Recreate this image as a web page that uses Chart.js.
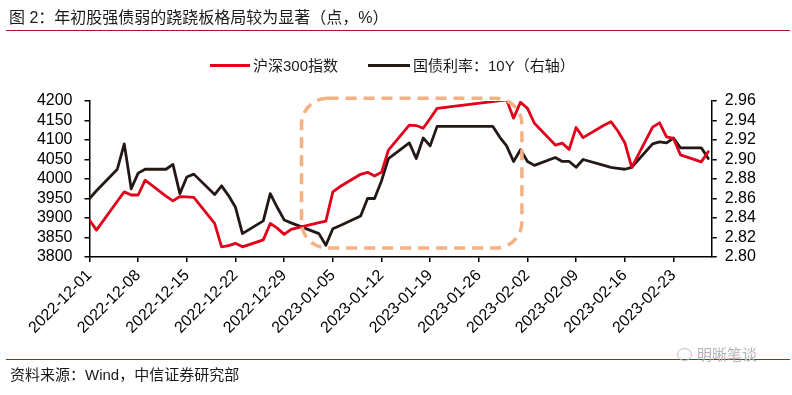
<!DOCTYPE html>
<html>
<head>
<meta charset="utf-8">
<script src="https://cdn.jsdelivr.net/npm/chart.js@4.4.1/dist/chart.umd.min.js"></script>
<style>
  html, body { margin: 0; padding: 0; background: #fff; }
  #wrap { position: relative; width: 792px; height: 395px; overflow: hidden;
    font-family: "Liberation Sans", Arial, "Noto Sans CJK SC", sans-serif; color: #1a1a1a; }
  #chart { position: absolute; left: 0; top: 0; }
  .abs { position: absolute; white-space: nowrap; }
  #title { left: 9px; top: 7px; font-size: 16px; line-height: 22px; }
  #titleLine { left: 6px; top: 30px; width: 784px; height: 0; border-top: 1.5px solid #a8191e; }
  .legend { top: 56px; font-size: 15px; line-height: 20px; }
  .swatch { position: absolute; height: 3px; top: 64px; }
  #footLine { left: 6px; top: 359px; width: 784px; height: 0; border-top: 1.5px solid #e3001b; }
  #source { left: 10px; top: 365px; font-size: 15px; line-height: 20px; }
  #mark { left: 697px; top: 345px; font-size: 15px; line-height: 20px; color: #b4b4b4; }
  #markIcon { left: 677px; top: 348px; width: 13px; height: 11px; border: 1.5px solid #c4c4c4; border-radius: 50%; }
</style>
</head>
<body>
<div id="wrap">
  <canvas id="chart" width="792" height="395"></canvas>
  <div class="abs" id="title">图 2：年初股强债弱的跷跷板格局较为显著（点，%）</div>
  <div class="abs" id="titleLine"></div>
  <div class="swatch" style="left:210px;width:40px;background:#e3001b"></div>
  <div class="abs legend" style="left:253px">沪深300指数</div>
  <div class="swatch" style="left:368px;width:42px;background:#231815"></div>
  <div class="abs legend" style="left:413px">国债利率：10Y（右轴）</div>
  <div class="abs" id="footLine"></div>
  <div class="abs" id="source">资料来源：Wind，中信证券研究部</div>
  <div class="abs" id="markIcon"></div>
  <div class="abs" id="mark">明晰笔谈</div>
</div>
<script>
  // trading days (union of stock & bond markets)
  const dates = [
    "2022-12-01", "2022-12-02", "2022-12-05", "2022-12-06", "2022-12-07", "2022-12-08", "2022-12-09",
    "2022-12-12", "2022-12-13", "2022-12-14", "2022-12-15", "2022-12-16",
    "2022-12-19", "2022-12-20", "2022-12-21", "2022-12-22", "2022-12-23",
    "2022-12-26", "2022-12-27", "2022-12-28", "2022-12-29", "2022-12-30",
    "2023-01-03", "2023-01-04", "2023-01-05", "2023-01-06",
    "2023-01-09", "2023-01-10", "2023-01-11", "2023-01-12", "2023-01-13",
    "2023-01-16", "2023-01-17", "2023-01-18", "2023-01-19", "2023-01-20",
    "2023-01-28", "2023-01-29", "2023-01-30", "2023-01-31", "2023-02-01", "2023-02-02", "2023-02-03",
    "2023-02-06", "2023-02-07", "2023-02-08", "2023-02-09", "2023-02-10",
    "2023-02-13", "2023-02-14", "2023-02-15", "2023-02-16", "2023-02-17",
    "2023-02-20", "2023-02-21", "2023-02-22", "2023-02-23", "2023-02-24",
    "2023-02-27", "2023-02-28"
  ];

  const csi300 = [
    3895, 3869, 3943, 3967, 3959, 3959, 3997,
    3956, 3944, 3955, 3954, 3953,
    3886, 3826, 3829, 3835, 3826,
    3844, 3886, 3874, 3858, 3871,
    3888, 3892, 3967, 3980,
    4012, 4017, 4008, 4017, 4074,
    4138, 4137, 4130, 4155, 4181,
    null, null, 4203, 4156, 4197, 4181, 4143,
    4087, 4092, 4076, 4132, 4106,
    4138, 4147, 4123, 4093, 4030,
    4133, 4144, 4108, 4104, 4062,
    4044, 4070
  ];

  const bond10y = [
    2.860, 2.868, 2.890, 2.916, 2.870, 2.886, 2.890,
    2.890, 2.895, 2.865, 2.882, 2.885,
    2.864, 2.873, 2.863, 2.851, 2.824,
    2.837, 2.865, 2.851, 2.838, 2.835,
    2.824, 2.812, 2.829, 2.832,
    2.842, 2.860, 2.860, 2.878, 2.901,
    2.917, 2.901, 2.922, 2.914, 2.934,
    2.934, 2.923, 2.914, 2.898, 2.910, 2.898, 2.894,
    2.902, 2.898, 2.898, 2.892, 2.900,
    2.894, 2.892, 2.891, 2.890, 2.892,
    2.916, 2.918, 2.917, 2.922, 2.912,
    2.912, 2.901
  ];

  const tickDates = [
    "2022-12-01", "2022-12-08", "2022-12-15", "2022-12-22", "2022-12-29", "2023-01-05", "2023-01-12",
    "2023-01-19", "2023-01-26", "2023-02-02", "2023-02-09", "2023-02-16", "2023-02-23"
  ];
  const leftTicks = [3800, 3850, 3900, 3950, 4000, 4050, 4100, 4150, 4200];
  const rightTicks = [2.8, 2.82, 2.84, 2.86, 2.88, 2.9, 2.92, 2.94, 2.96];

  // dashed highlight box (days from start, index points)
  const highlight = { from: 30.5, to: 62.2, top: 4207, bottom: 3823 };

  const DAY = 86400000;
  const base = Date.UTC(2022, 11, 1);
  function dayOf(s) {
    const [y, m, d] = s.split("-").map(Number);
    return (Date.UTC(y, m - 1, d) - base) / DAY;
  }

  const tickDays = tickDates.map(dayOf);
  const labelByDay = {};
  tickDates.forEach((d, i) => (labelByDay[tickDays[i]] = d));

  const highlightBox = {
    id: "highlightBox",
    afterDatasetsDraw(chart) {
      const { ctx, scales } = chart;
      const x0 = scales.x.getPixelForValue(highlight.from);
      const x1 = scales.x.getPixelForValue(highlight.to);
      const y0 = scales.y.getPixelForValue(highlight.top);
      const y1 = scales.y.getPixelForValue(highlight.bottom);
      ctx.save();
      ctx.strokeStyle = "#f4b183";
      ctx.lineWidth = 3.5;
      ctx.setLineDash([11, 7]);
      ctx.beginPath();
      ctx.roundRect(x0, y0, x1 - x0, y1 - y0, 26);
      ctx.stroke();
      ctx.restore();
    },
  };

  const tickFont = { family: "'Liberation Sans', Arial, sans-serif", size: 16 };
  const axisGrid = { drawOnChartArea: false, tickLength: 5, color: "#000", lineWidth: 1.5 };
  const axisBorder = { color: "#000", width: 1.5 };

  new Chart(document.getElementById("chart"), {
    type: "line",
    data: {
      datasets: [
        {
          label: "沪深300指数",
          data: dates.map((d, i) => ({ x: dayOf(d), y: csi300[i] })),
          borderColor: "#e3001b",
          borderWidth: 2.8,
          yAxisID: "y",
          spanGaps: true,
        },
        {
          label: "国债利率：10Y（右轴）",
          data: dates.map((d, i) => ({ x: dayOf(d), y: bond10y[i] })),
          borderColor: "#231815",
          borderWidth: 2.8,
          yAxisID: "y1",
        },
      ],
    },
    options: {
      responsive: false,
      animation: false,
      devicePixelRatio: 1,
      layout: { padding: { top: 101, left: 0, right: 0, bottom: 0 } },
      elements: {
        point: { radius: 0 },
        line: { tension: 0, borderJoinStyle: "round", borderCapStyle: "round" },
      },
      plugins: { legend: { display: false }, tooltip: { enabled: false } },
      scales: {
        x: {
          type: "linear",
          min: 0,
          max: 89.5,
          afterBuildTicks: (s) => {
            s.ticks = tickDays.map((v) => ({ value: v }));
          },
          afterFit: (s) => {
            s.height = 138;
          },
          ticks: {
            autoSkip: false,
            minRotation: 45,
            maxRotation: 45,
            padding: 4,
            color: "#000",
            font: tickFont,
            callback: (v) => labelByDay[v] || "",
          },
          grid: axisGrid,
          border: axisBorder,
        },
        y: {
          position: "left",
          min: 3800,
          max: 4200,
          afterBuildTicks: (s) => {
            s.ticks = leftTicks.map((v) => ({ value: v }));
          },
          afterFit: (s) => {
            s.width = 89.5;
          },
          ticks: { autoSkip: false, padding: 12, color: "#000", font: tickFont, callback: (v) => String(v) },
          grid: axisGrid,
          border: axisBorder,
        },
        y1: {
          position: "right",
          min: 2.8,
          max: 2.96,
          afterBuildTicks: (s) => {
            s.ticks = rightTicks.map((v) => ({ value: v }));
          },
          afterFit: (s) => {
            s.width = 80.3;
          },
          ticks: {
            autoSkip: false,
            padding: 8,
            color: "#000",
            font: tickFont,
            callback: (v) => Number(v).toFixed(2),
          },
          grid: axisGrid,
          border: axisBorder,
        },
      },
    },
    plugins: [highlightBox],
  });
</script>
</body>
</html>
